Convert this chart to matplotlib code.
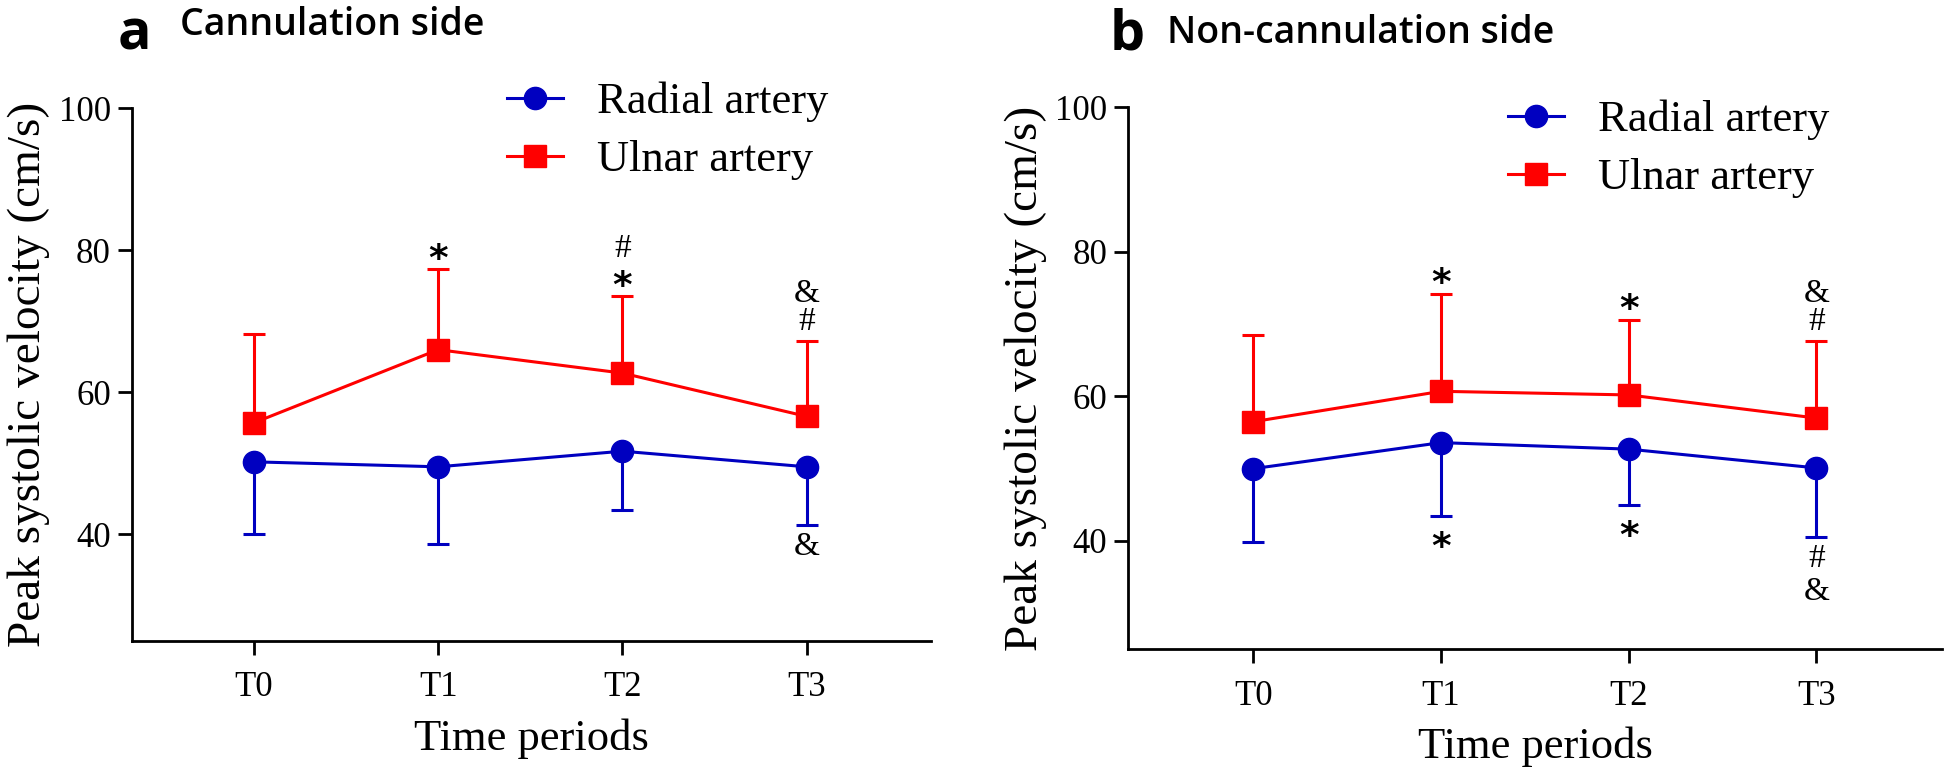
import matplotlib.pyplot as plt
import numpy as np

# time points
periods = ['T0', 'T1', 'T2', 'T3']

# panel a - cannulation side (mean, one-sided SD)
radial_a = [50.2, 49.5, 51.7, 49.5]
radial_a_sd = [10.1, 10.9, 8.3, 8.2]
ulnar_a = [55.7, 66.0, 62.7, 56.6]
ulnar_a_sd = [12.5, 11.3, 10.8, 10.6]

# panel b - non-cannulation side
radial_b = [50.0, 53.6, 52.7, 50.1]
radial_b_sd = [10.1, 10.2, 7.7, 9.5]
ulnar_b = [56.5, 60.7, 60.2, 57.0]
ulnar_b_sd = [12.0, 13.5, 10.4, 10.7]

# significance marks, listed from the error bar outwards
marks_a_ulnar = [[], ['*'], ['*', '#'], ['#', '&']]
marks_a_radial = [[], [], [], ['&']]
marks_b_ulnar = [[], ['*'], ['*'], ['#', '&']]
marks_b_radial = [[], ['*'], ['*'], ['#', '&']]

BLUE = '#0000c0'
RED = '#ff0000'
SERIF = 'Liberation Serif'
plt.rcParams['font.family'] = SERIF

fig = plt.figure(figsize=(19.44, 7.73), dpi=100)
ax_a = fig.add_axes([0.0677, 0.1711, 0.4112, 0.6888])
ax_b = fig.add_axes([0.5804, 0.1600, 0.4186, 0.7012])


def put_marks(ax, x, y, marks, direction):
    for i, m in enumerate(marks):
        if direction > 0:
            off = 14 + 20 * i
        else:
            off = -(16 + 24 * i)
        if m == '*':
            ax.annotate(m, (x, y), xytext=(0, off - 7), textcoords='offset points',
                        ha='center', va='center', fontsize=27, weight='bold',
                        family='DejaVu Sans', color='black')
        else:
            ax.annotate(m, (x, y), xytext=(0, off), textcoords='offset points',
                        ha='center', va='center', fontsize=24, color='black')


def draw_panel(ax, radial, radial_sd, ulnar, ulnar_sd, m_ulnar, m_radial, xlim):
    x = np.arange(len(periods))
    radial = np.array(radial)
    ulnar = np.array(ulnar)
    radial_sd = np.array(radial_sd)
    ulnar_sd = np.array(ulnar_sd)
    zeros = np.zeros_like(radial)
    ax.errorbar(x, ulnar, yerr=[zeros, ulnar_sd], fmt='none', ecolor=RED,
                elinewidth=2.2, capsize=8, capthick=2.2, zorder=2)
    ax.errorbar(x, radial, yerr=[radial_sd, zeros], fmt='none', ecolor=BLUE,
                elinewidth=2.2, capsize=8, capthick=2.2, zorder=2)
    ax.plot(x, radial, '-o', color=BLUE, lw=2.2, ms=16, label='Radial artery', zorder=3)
    ax.plot(x, ulnar, '-s', color=RED, lw=2.2, ms=16, label='Ulnar artery', zorder=3)

    for i in x:
        put_marks(ax, i, ulnar[i] + ulnar_sd[i], m_ulnar[i], 1)
        put_marks(ax, i, radial[i] - radial_sd[i], m_radial[i], -1)

    ax.set_xlim(*xlim)
    ax.set_ylim(25, 100)
    ax.set_xticks(x)
    ax.set_xticklabels(periods)
    ax.set_yticks([40, 60, 80, 100])
    for s in ['top', 'right']:
        ax.spines[s].set_visible(False)
    for s in ['left', 'bottom']:
        ax.spines[s].set_linewidth(2)
    ax.tick_params(width=2, length=10, labelsize=25)
    ax.tick_params(axis='x', pad=12)
    ax.tick_params(axis='y', pad=5)
    ax.set_xlabel('Time periods', fontsize=32, labelpad=10)
    ax.set_ylabel('Peak systolic velocity (cm/s)', fontsize=34, labelpad=6)


draw_panel(ax_a, radial_a, radial_a_sd, ulnar_a, ulnar_a_sd,
           marks_a_ulnar, marks_a_radial, (-0.664, 3.675))
draw_panel(ax_b, radial_b, radial_b_sd, ulnar_b, ulnar_b_sd,
           marks_b_ulnar, marks_b_radial, (-0.667, 3.67))

ax_a.legend(loc='upper left', bbox_to_anchor=(507 / 1944, 1 - 82 / 773),
            bbox_transform=fig.transFigure, frameon=False, borderpad=0,
            borderaxespad=0, handlelength=1.26, handletextpad=0.77,
            labelspacing=0.4, prop={'size': 32})
ax_b.legend(loc='upper left', bbox_to_anchor=(1508 / 1944, 1 - 100 / 773),
            bbox_transform=fig.transFigure, frameon=False, borderpad=0,
            borderaxespad=0, handlelength=1.26, handletextpad=0.77,
            labelspacing=0.4, prop={'size': 32})

# panel letters and titles
fig.text(118 / 1944, 1 - 50 / 773, 'a', family='Open Sans', weight='bold',
         fontsize=40, va='baseline')
fig.text(180 / 1944, 1 - 35 / 773, 'Cannulation side', family='Open Sans',
         weight='semibold', fontsize=27, va='baseline')
fig.text(1110 / 1944, 1 - 50 / 773, 'b', family='Open Sans', weight='bold',
         fontsize=40, va='baseline')
fig.text(1167 / 1944, 1 - 43 / 773, 'Non-cannulation side', family='Open Sans',
         weight='semibold', fontsize=27, va='baseline')

fig.savefig('out.png', dpi=100)
